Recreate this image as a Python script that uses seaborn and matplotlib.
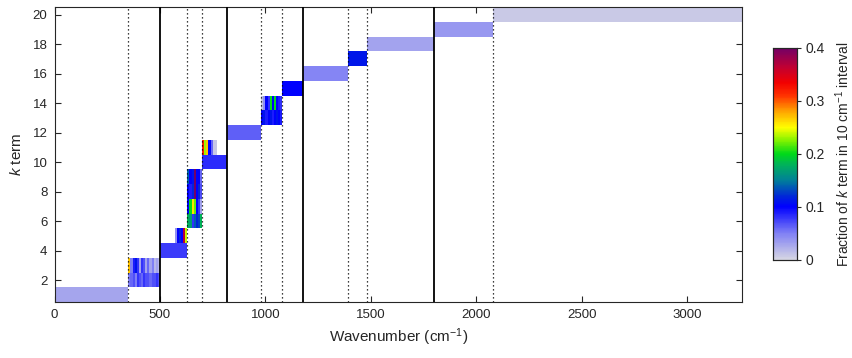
import numpy as np
import pandas as pd
import matplotlib
matplotlib.use("Agg")
import matplotlib.pyplot as plt
from matplotlib.colors import LinearSegmentedColormap
import seaborn as sns

sns.set_theme(style="white")
plt.rcParams["font.family"] = ["Liberation Sans", "DejaVu Sans"]
plt.rcParams["mathtext.fontset"] = "custom"
plt.rcParams["mathtext.rm"] = "Liberation Sans"
plt.rcParams["mathtext.it"] = "Liberation Sans:italic"

# Spectral resolution of the mapping grid (cm-1) and upper limit
BIN_WIDTH = 10
WN_MAX = 3260

# k terms that are spread evenly over a wavenumber range: (k, start, end, fraction per bin)
uniform_k = [1, 4, 10, 12, 15, 16, 17, 18, 19, 20]
uniform_start = [0, 500, 700, 820, 1080, 1180, 1390, 1480, 1800, 2080]
uniform_end = [350, 630, 820, 980, 1180, 1390, 1480, 1800, 2080, 3260]
uniform_frac = [0.029, 0.077, 0.083, 0.0625, 0.10, 0.048, 0.111, 0.031, 0.036, 0.0085]

# k terms with a structured spectral distribution: start wavenumber and fraction per 10 cm-1 bin
k2_start = 350
k2_frac = [0.05, 0.06, 0.07, 0.05, 0.08, 0.07, 0.06, 0.08, 0.07, 0.07, 0.06, 0.07, 0.07, 0.08, 0.07]
k3_start = 350
k3_frac = [0.27, 0.05, 0.09, 0.11, 0.08, 0.03, 0.08, 0.07, 0.03, 0.06, 0.03, 0.05, 0.02, 0.03, 0.02]
k5_start = 570
k5_frac = [0.04, 0.10, 0.12, 0.10, 0.37, 0.24]
k6_start = 630
k6_frac = [0.18, 0.17, 0.08, 0.14, 0.12, 0.13, 0.18]
k7_start = 630
k7_frac = [0.10, 0.20, 0.26, 0.22, 0.10, 0.08, 0.03]
k8_start = 630
k8_frac = [0.10, 0.09, 0.12, 0.40, 0.10, 0.12, 0.07]
k9_start = 630
k9_frac = [0.14, 0.10, 0.11, 0.40, 0.10, 0.10, 0.06]
k11_start = 700
k11_frac = [0.32, 0.23, 0.27, 0.10, 0.06, 0.01, 0.01]
k13_start = 980
k13_frac = [0.10, 0.11, 0.09, 0.10, 0.11, 0.09, 0.10, 0.11, 0.10, 0.09]
k14_start = 980
k14_frac = [0.01, 0.04, 0.10, 0.08, 0.20, 0.10, 0.20, 0.10, 0.09, 0.08]

structured = {
    2: (k2_start, k2_frac), 3: (k3_start, k3_frac), 5: (k5_start, k5_frac),
    6: (k6_start, k6_frac), 7: (k7_start, k7_frac), 8: (k8_start, k8_frac),
    9: (k9_start, k9_frac), 11: (k11_start, k11_frac),
    13: (k13_start, k13_frac), 14: (k14_start, k14_frac),
}

# Band boundaries: solid lines separate band groups, dotted lines the bands inside them
solid_bounds = [500, 820, 1180, 1800]
dotted_bounds = [350, 630, 700, 980, 1080, 1390, 1480, 2080]

x_ticks = [0, 500, 1000, 1500, 2000, 2500, 3000]
y_ticks = [2, 4, 6, 8, 10, 12, 14, 16, 18, 20]
cbar_ticks = [0, 0.1, 0.2, 0.3, 0.4]

# Build the k-term x wavenumber-bin matrix
n_k = 20
n_bins = WN_MAX // BIN_WIDTH
grid = np.full((n_k, n_bins), np.nan)
for k, s, e, f in zip(uniform_k, uniform_start, uniform_end, uniform_frac):
    grid[k - 1, s // BIN_WIDTH:e // BIN_WIDTH] = f
for k, (s, fr) in structured.items():
    i0 = s // BIN_WIDTH
    grid[k - 1, i0:i0 + len(fr)] = fr

frame = pd.DataFrame(grid, index=np.arange(1, n_k + 1),
                     columns=np.arange(n_bins) * BIN_WIDTH)

# Colour scale: pale lavender through blue, green, yellow, red to purple
anchors = [
    (0.000, (0.84, 0.84, 0.89)),
    (0.050, (0.50, 0.50, 0.96)),
    (0.100, (0.00, 0.00, 1.00)),
    (0.120, (0.00, 0.15, 0.85)),
    (0.150, (0.00, 0.50, 0.60)),
    (0.180, (0.00, 0.70, 0.35)),
    (0.200, (0.00, 0.85, 0.10)),
    (0.225, (0.50, 0.95, 0.00)),
    (0.250, (1.00, 1.00, 0.00)),
    (0.280, (1.00, 0.65, 0.00)),
    (0.310, (1.00, 0.20, 0.00)),
    (0.335, (0.95, 0.00, 0.00)),
    (0.365, (0.75, 0.00, 0.20)),
    (0.400, (0.45, 0.00, 0.40)),
]
cmap = LinearSegmentedColormap.from_list(
    "kfrac", [(v / 0.4, c) for v, c in anchors], N=256)

fig = plt.figure(figsize=(8.53, 3.58), dpi=100)
ax = fig.add_axes([0.0639, 0.156, 0.806, 0.824])
cax = fig.add_axes([0.906, 0.274, 0.028, 0.592])

sns.heatmap(frame, ax=ax, cbar_ax=cax, cmap=cmap, vmin=0, vmax=0.4,
            xticklabels=False, yticklabels=False, linewidths=0)

ax.set_xlim(0, n_bins)
ax.set_ylim(0, n_k)

axis_col = "#262626"
for b in solid_bounds:
    ax.axvline(b / BIN_WIDTH, color="black", lw=1.3, zorder=3)
for b in dotted_bounds:
    ax.axvline(b / BIN_WIDTH, color="black", lw=0.9, ls=(0, (1, 2.2)), zorder=3)

ax.set_xticks([t / BIN_WIDTH for t in x_ticks])
ax.set_xticklabels([str(t) for t in x_ticks], rotation=0)
ax.set_yticks([k - 0.5 for k in y_ticks])
ax.set_yticklabels([str(k) for k in y_ticks], rotation=0)
ax.tick_params(axis="both", which="both", direction="in", length=4, width=0.8,
               top=True, right=True, bottom=True, left=True,
               labelsize=9.5, colors=axis_col, pad=5)
for sp in ax.spines.values():
    sp.set_visible(True)
    sp.set_color(axis_col)
    sp.set_linewidth(0.8)

ax.set_xlabel("Wavenumber (cm$^{-1}$)", fontsize=11, color=axis_col, labelpad=4)
ax.set_ylabel("$k$ term", fontsize=11, color=axis_col, labelpad=6)

cax.set_yticks(cbar_ticks)
cax.set_yticklabels(["0", "0.1", "0.2", "0.3", "0.4"])
cax.tick_params(axis="y", direction="out", length=3, width=0.8, labelsize=10,
                colors=axis_col, right=True, left=False)
for sp in cax.spines.values():
    sp.set_visible(True)
    sp.set_color(axis_col)
    sp.set_linewidth(0.8)
cax.set_ylabel("Fraction of $k$ term in 10 cm$^{-1}$ interval", fontsize=10,
               color=axis_col, labelpad=6)

fig.savefig("out.png", dpi=100)
